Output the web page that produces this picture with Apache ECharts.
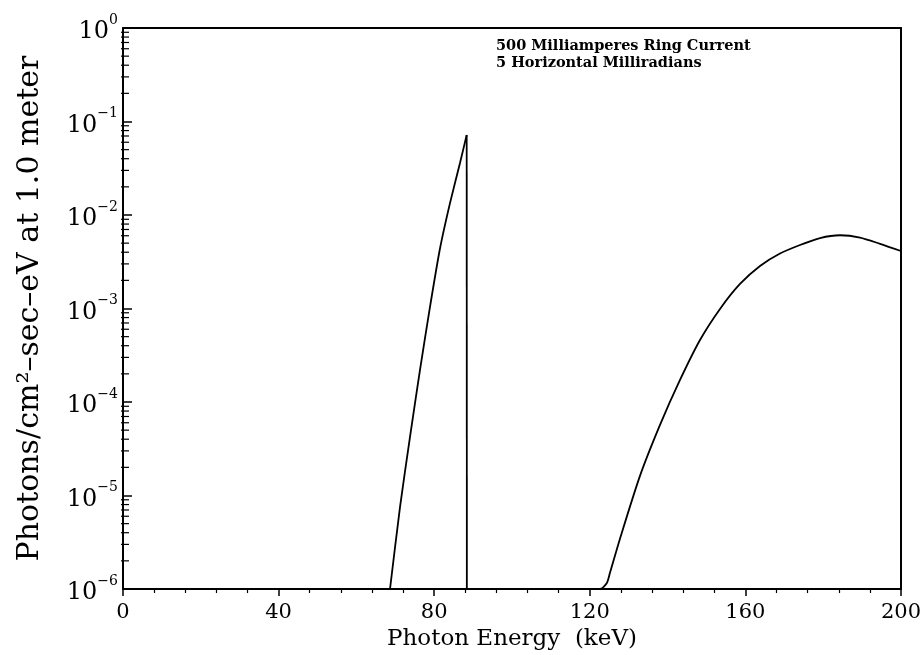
<!DOCTYPE html>
<html>
<head>
<meta charset="utf-8">
<script src="https://cdn.jsdelivr.net/npm/echarts@6/dist/echarts.min.js"></script>
<style>html,body{margin:0;padding:0;background:#fff}#c{width:920px;height:655px}</style>
</head>
<body>
<div id="c"></div>
<script>
// ---- data ----
const xTicks = [0, 40, 80, 120, 160, 200];
const yDecades = [1e-6, 1e-5, 1e-4, 1e-3, 1e-2, 1e-1, 1];
const titleLines = ['500 Milliamperes Ring Current', '5 Horizontal Milliradians'];
const xName = 'Photon Energy  (keV)';
const yName = 'Photons/cm\u00b2\u2013sec\u2013eV at 1.0 meter';

// K-edge (filtered) peak: rising flank
const peakEnergy = [68.64, 71.21, 73.78, 76.35, 78.92, 81.49, 84.06, 86.63, 88.35];
const peakFlux   = [1e-6, 7.53e-6, 4.23e-5, 2.20e-4, 1.04e-3, 4.38e-3, 1.34e-2, 3.60e-2, 7.18e-2];
// edge: vertical drop
const edgeEnergy = [88.35, 88.4];
const edgeFlux   = [7.18e-2, 1e-6];

// broad high-energy hump
const humpEnergy = [120, 122.6, 124.35, 125.19, 127.76, 132.90, 138.05, 143.19, 148.33, 153.47, 158.61, 163.75, 168.89, 174.04, 179.18, 184.32, 189.46, 194.60, 200];
const humpFlux   = [1e-6, 1.0e-6, 1.15e-6, 1.49e-6, 3.45e-6, 1.62e-5, 5.68e-5, 1.72e-4, 4.60e-4, 9.89e-4, 1.83e-3, 2.85e-3, 3.87e-3, 4.78e-3, 5.67e-3, 6.07e-3, 5.74e-3, 4.92e-3, 4.12e-3];

// minor log ticks 2..9 per decade
const minorTickValues = [];
for (let d = -6; d < 0; d++) for (let m = 2; m <= 9; m++) minorTickValues.push(m * Math.pow(10, d));

const serif = '"DejaVu Serif", "Liberation Serif", serif';
const zip = (a, b) => a.map((v, i) => [v, b[i]]);
const lineStyle = {color: '#000', width: 1.8};

const chart = echarts.init(document.getElementById('c'), null, {renderer: 'canvas'});
chart.setOption({
  backgroundColor: '#fff',
  animation: false,
  title: {
    text: titleLines.join('\n'),
    left: 491, top: 33,
    textStyle: {fontFamily: serif, fontWeight: 'bold', fontSize: 14.5, lineHeight: 17, color: '#000'}
  },
  grid: {left: 123, right: 19, top: 28, bottom: 66, containLabel: false, outerBoundsMode: 'none'},
  xAxis: [{
    type: 'value', min: 0, max: 200, interval: 40,
    name: xName, nameLocation: 'middle', nameGap: 37,
    nameTextStyle: {fontFamily: serif, fontSize: 23, color: '#000'},
    axisLine: {show: true, onZero: false, lineStyle: {color: '#000', width: 2.2}},
    axisTick: {show: true, inside: false, length: 7, lineStyle: {color: '#000', width: 1.5}},
    minorTick: {show: true, splitNumber: 5, length: 4, lineStyle: {color: '#000', width: 1.2}},
    axisLabel: {fontFamily: serif, fontSize: 21, color: '#000', margin: 13},
    splitLine: {show: false}
  }, {
    type: 'value', min: 0, max: 200, position: 'top',
    axisLine: {show: true, onZero: false, lineStyle: {color: '#000', width: 2}},
    axisTick: {show: false}, axisLabel: {show: false}, splitLine: {show: false}
  }],
  yAxis: [{
    type: 'log', logBase: 10, min: 1e-6, max: 1,
    name: yName, nameLocation: 'middle', nameGap: 78,
    nameTextStyle: {fontFamily: serif, fontSize: 30, color: '#000'},
    axisLine: {show: true, onZero: false, lineStyle: {color: '#000', width: 2}},
    axisTick: {show: true, inside: true, length: 9, lineStyle: {color: '#000', width: 1.5}},
    axisLabel: {
      margin: 5,
      formatter: function (v) {
        const e = Math.round(Math.log10(v));
        const es = e < 0 ? '\u2212' + (-e) : String(e);
        return '{b|10}{s|' + es + '}';
      },
      rich: {
        b: {fontFamily: serif, fontSize: 24, color: '#000', padding: [8, 0, 0, 0]},
        s: {fontFamily: serif, fontSize: 14, color: '#000', padding: [0, 0, 16, 0]}
      }
    },
    splitLine: {show: false}
  }, {
    type: 'value', min: 0, max: 1, position: 'right',
    axisLine: {show: true, onZero: false, lineStyle: {color: '#000', width: 2}},
    axisTick: {show: false}, axisLabel: {show: false}, splitLine: {show: false}
  }],
  series: [{
    type: 'line', name: 'peak', data: zip(peakEnergy, peakFlux),
    showSymbol: false, smooth: 0.2, lineStyle: lineStyle
  }, {
    type: 'line', name: 'edge', data: zip(edgeEnergy, edgeFlux),
    showSymbol: false, smooth: false, lineStyle: lineStyle
  }, {
    type: 'line', name: 'hump', data: zip(humpEnergy, humpFlux),
    showSymbol: false, smooth: 0.25, lineStyle: lineStyle
  }, {
    type: 'custom', name: 'minorTicks',
    data: minorTickValues.map(v => [0, v]),
    renderItem: function (params, api) {
      const p = api.coord([api.value(0), api.value(1)]);
      return {type: 'line', shape: {x1: p[0] - 2, y1: p[1], x2: p[0] + 6, y2: p[1]},
              style: {stroke: '#000', lineWidth: 1.2}};
    },
    silent: true, clip: false
  }]
});
</script>
</body>
</html>
